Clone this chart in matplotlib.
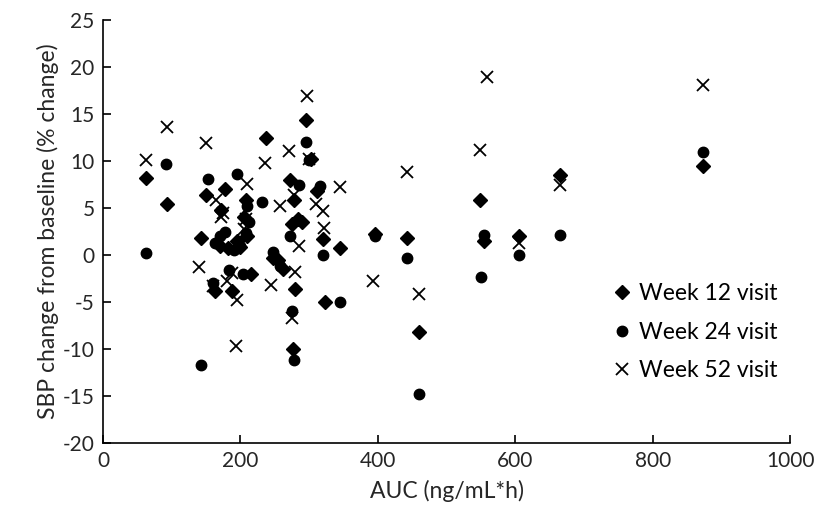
import matplotlib
matplotlib.use("Agg")
import matplotlib.pyplot as plt

plt.rcParams['font.family'] = ['Lato', 'DejaVu Sans']
plt.rcParams['axes.unicode_minus'] = False

w12_x = [62, 93, 143, 150, 163, 170, 172, 178, 182, 188, 195, 200, 205, 208, 210, 215,
         237, 248, 255, 262, 272, 275, 277, 278, 280, 283, 290, 296, 303, 312, 320, 323,
         345, 395, 443, 460, 548, 555, 605, 665, 873]
w12_y = [8.2, 5.4, 1.8, 6.4, -3.8, 1.0, 4.8, 7.0, 0.7, -3.8, 1.5, 0.8, 4.0, 5.8, 2.0, -2.0,
         12.5, -0.3, -0.5, -1.5, 8.0, 3.3, -10.0, 5.8, -3.6, 3.8, 3.5, 14.4, 10.2, 6.8, 1.7, -5.0,
         0.7, 2.2, 1.8, -8.2, 5.8, 1.5, 2.0, 8.5, 9.5]

w24_x = [63, 92, 143, 152, 160, 163, 170, 178, 183, 190, 195, 200, 203, 208, 210, 213,
         232, 248, 258, 272, 275, 278, 285, 296, 300, 315, 320, 345, 395, 443, 460,
         550, 555, 605, 665, 873]
w24_y = [0.2, 9.7, -11.7, 8.1, -3.0, 1.3, 2.0, 2.4, -1.6, 0.5, 8.6, 1.0, -2.0, 2.3, 5.2, 3.5,
         5.6, 0.3, -1.2, 2.0, -6.0, -11.2, 7.4, 12.0, 10.1, 7.3, 0.0, -5.0, 2.0, -0.3, -14.8,
         -2.3, 2.1, 0.0, 2.1, 11.0]

w52_x = [62, 93, 140, 150, 160, 165, 172, 175, 180, 188, 193, 195, 205, 208, 210, 235,
         245, 258, 270, 275, 278, 280, 285, 297, 300, 310, 320, 322, 345, 393, 443, 460,
         548, 558, 605, 665, 873]
w52_y = [10.1, 13.6, -1.3, 11.9, -3.3, 5.8, 4.0, 4.5, -2.8, -1.9, -9.7, -4.8, 2.8, 3.8, 7.6, 9.8,
         -3.2, 5.2, 11.1, -6.7, 6.4, -1.8, 1.0, 16.9, 10.2, 5.4, 4.7, 2.9, 7.2, -2.8, 8.8, -4.1,
         11.2, 18.9, 1.3, 7.5, 18.1]

series_labels = ["Week 12 visit", "Week 24 visit", "Week 52 visit"]
x_ticks = [0, 200, 400, 600, 800, 1000]
y_ticks = [-20, -15, -10, -5, 0, 5, 10, 15, 20, 25]

fig = plt.figure(figsize=(8.31, 5.15), dpi=100)
ax = fig.add_axes([0.124, 0.140, 0.827, 0.821])

ax.plot(w12_x, w12_y, linestyle='none', marker='D', markersize=7.5, color='black', label=series_labels[0])
ax.plot(w24_x, w24_y, linestyle='none', marker='o', markersize=7.5, color='black', label=series_labels[1])
ax.plot(w52_x, w52_y, linestyle='none', marker='x', markersize=8, markeredgewidth=1.3, color='black', label=series_labels[2])

ax.set_xlim(0, 1000)
ax.set_ylim(-20, 25)
ax.set_xticks(x_ticks)
ax.set_yticks(y_ticks)
ax.tick_params(direction='in', length=6, width=1.2, labelsize=15, colors='black', labelcolor='#262626', pad=6)
for s in ['top', 'right']:
    ax.spines[s].set_visible(False)
for s in ['left', 'bottom']:
    ax.spines[s].set_linewidth(1.2)

ax.set_xlabel("AUC (ng/mL*h)", fontsize=16.5, color='#262626', labelpad=6)
ax.set_ylabel("SBP change from baseline (% change)", fontsize=16.5, color='#262626', labelpad=3)

ax.legend(loc='center left', bbox_to_anchor=(0.725, 0.262), frameon=False, fontsize=16.5,
          labelspacing=0.75, handletextpad=0.25, handlelength=1.0, borderaxespad=0)

fig.savefig("out.png", dpi=100)
